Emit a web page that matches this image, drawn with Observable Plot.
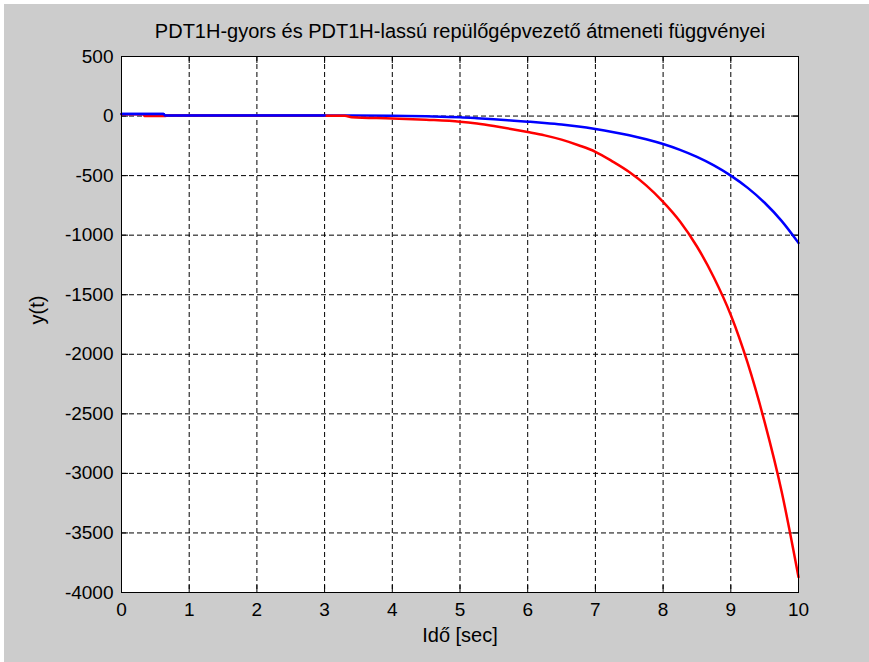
<!DOCTYPE html>
<html>
<head>
<meta charset="utf-8">
<script src="https://cdn.jsdelivr.net/npm/d3@7"></script>
<script src="https://cdn.jsdelivr.net/npm/@observablehq/plot@0.6"></script>
<style>
  html, body { margin: 0; padding: 0; background: #ffffff; }
  #chart { position: relative; width: 869px; height: 662px; overflow: hidden; }
  #chart::after { content: ""; position: absolute; left: 0; top: 0; width: 869px; height: 662px;
    box-sizing: border-box; border-top: 4px solid #fff; border-left: 4px solid #fff; pointer-events: none; }
  svg { display: block; }
</style>
</head>
<body>
<div id="chart"></div>
<script>
const titleText = "PDT1H-gyors és PDT1H-lassú repülőgépvezető átmeneti függvényei";
const xLabel = "Idő [sec]";
const yLabel = "y(t)";
const xTicks = [0, 1, 2, 3, 4, 5, 6, 7, 8, 9, 10];
const yTicks = [500, 0, -500, -1000, -1500, -2000, -2500, -3000, -3500, -4000];

// PDT1H-gyors (red)
const fastT = [0, 0.33, 0.34, 0.63, 0.7, 3.3, 3.4, 4, 4.5, 5, 5.25, 5.5, 5.75, 6, 6.25, 6.5, 6.75, 7, 7.25, 7.5, 7.75, 8, 8.25, 8.5, 8.75, 9, 9.25, 9.5, 9.75, 10];
const fastY = [15, 15, 0, 0, 4, 2, -10, -20, -31, -47, -63, -84, -108, -134, -162, -198, -245, -300, -380, -470, -582, -720, -885, -1095, -1355, -1670, -2075, -2570, -3150, -3870];

// PDT1H-lassú (blue)
const slowT = [0, 0.62, 0.64, 1, 2, 3, 4, 4.5, 5, 5.25, 5.5, 5.75, 6, 6.25, 6.5, 6.75, 7, 7.25, 7.5, 7.75, 8, 8.25, 8.5, 8.75, 9, 9.25, 9.5, 9.75, 10];
const slowY = [18, 18, 5, 5, 5, 5, 3, -2, -10, -18, -27, -37, -47, -58, -71, -88, -109, -133, -161, -195, -235, -284, -343, -414, -500, -603, -728, -880, -1065];

const fast = fastT.map((t, i) => ({t, y: fastY[i]}));
const slow = slowT.map((t, i) => ({t, y: slowY[i]}));

const W = 869, H = 662;
const mL = 121, mR = 71, mT = 56, mB = 70;
const frameH = H - mT - mB;
const frameW = W - mL - mR;
const tickLen = 7;
const font = "'Liberation Sans', Arial, Helvetica, sans-serif";

const chart = Plot.plot({
  width: W,
  height: H,
  marginLeft: mL,
  marginRight: mR,
  marginTop: mT,
  marginBottom: mB,
  style: {background: "#cccccc", fontFamily: font, color: "#000"},
  x: {domain: [0, 10], label: null},
  y: {domain: [-4000, 500], label: null},
  marks: [
    Plot.frame({fill: "white", stroke: null}),
    Plot.gridX(xTicks, {stroke: "#000", strokeOpacity: 1, strokeWidth: 1, strokeDasharray: "5,3"}),
    Plot.gridY(yTicks, {stroke: "#000", strokeOpacity: 1, strokeWidth: 1, strokeDasharray: "5,3"}),
    // inward ticks on all four sides
    Plot.ruleX(xTicks, {stroke: "#000", insetTop: frameH - tickLen}),
    Plot.ruleX(xTicks, {stroke: "#000", insetBottom: frameH - tickLen}),
    Plot.ruleY(yTicks, {stroke: "#000", insetRight: frameW - tickLen}),
    Plot.ruleY(yTicks, {stroke: "#000", insetLeft: frameW - tickLen}),
    Plot.line(slow, {x: "t", y: "y", stroke: "#0000ff", strokeWidth: 2.5, curve: "monotone-x"}),
    Plot.line(fast, {x: "t", y: "y", stroke: "#ff0000", strokeWidth: 2.5, curve: "monotone-x"}),
    Plot.line(slow.filter(d => d.t < 3.5), {x: "t", y: "y", stroke: "#0000ff", strokeWidth: 2.5, curve: "monotone-x"}),
    Plot.frame({stroke: "#000", strokeWidth: 1}),
    Plot.axisX(xTicks, {anchor: "bottom", tickSize: 0, tickPadding: 10, fontSize: 19, label: null, tickFormat: d => String(d)}),
    Plot.axisY(yTicks, {anchor: "left", tickSize: 0, tickPadding: 8, fontSize: 19, label: null, tickFormat: d => String(d)}),
    Plot.text([titleText], {frameAnchor: "top", dy: -18.5, lineAnchor: "bottom", fontSize: 20, fill: "#000"}),
    Plot.text([xLabel], {frameAnchor: "bottom", dy: 49, lineAnchor: "bottom", fontSize: 20, fill: "#000"}),
    Plot.text([yLabel], {frameAnchor: "left", dx: -84, rotate: -90, lineAnchor: "middle", fontSize: 20, fill: "#000"})
  ]
});
document.getElementById("chart").appendChild(chart);
</script>
</body>
</html>
